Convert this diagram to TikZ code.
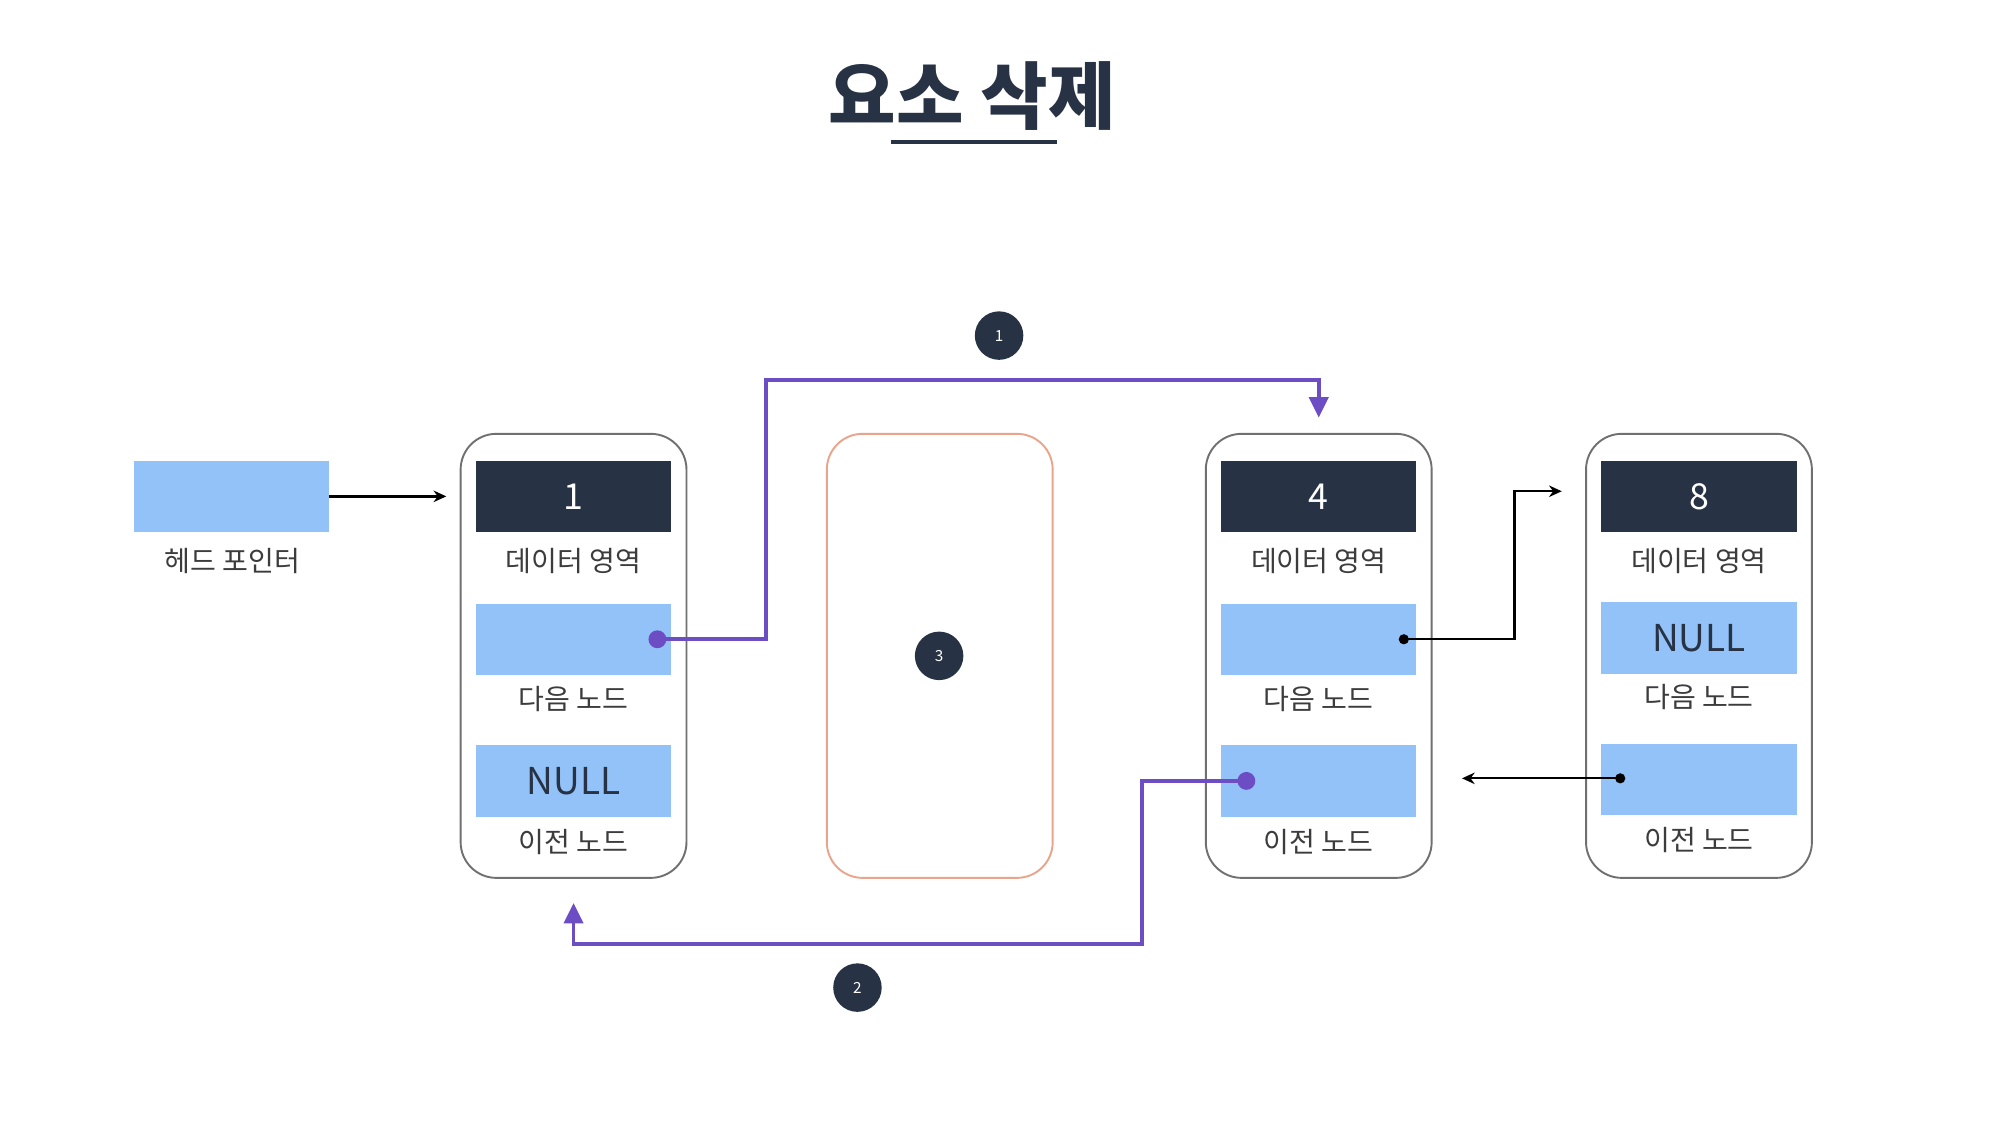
\documentclass[tikz,border=0pt]{standalone}
\usepackage{fontspec}
\newfontfamily\kr{Noto Sans CJK KR}
\usetikzlibrary{arrows.meta,calc}
\definecolor{navy}{HTML}{273244}
\definecolor{lblue}{HTML}{93C2F8}
\definecolor{purp}{HTML}{6C4DC4}
\definecolor{orng}{HTML}{E8A58C}
\definecolor{bgray}{HTML}{707070}
\definecolor{tgray}{HTML}{3C3C3C}
\tikzset{
  outer/.style={draw=bgray, line width=1.5pt, rounded corners=28pt, minimum width=177pt, minimum height=348pt, inner sep=0pt},
  gone/.style={draw=orng, line width=1.5pt, rounded corners=28pt, minimum width=177pt, minimum height=348pt, inner sep=0pt},
  databox/.style={fill=navy, minimum width=153pt, minimum height=56pt, inner sep=0pt, text=white, font=\kr\fontsize{28}{32}\selectfont},
  ptrbox/.style={fill=lblue, minimum width=153pt, minimum height=56pt, inner sep=0pt, text=navy, font=\kr\fontsize{29}{32}\selectfont},
  lab/.style={inner sep=0pt, text=tgray, font=\kr\fontsize{22}{24}\selectfont},
  badge/.style={circle, fill=navy, minimum size=38pt, inner sep=0pt, text=white, font=\kr\fontsize{12}{14}\selectfont},
  plink/.style={draw=purp, line width=3pt, -{Triangle[length=16pt,width=15pt]}},
  blink/.style={draw=black, line width=1.8pt, -{Stealth[length=10pt,width=9pt]}},
  pdot/.style={circle, fill=purp, minimum size=14pt, inner sep=0pt},
  bdot/.style={circle, fill=black, minimum size=8pt, inner sep=0pt},
}
\begin{document}
\begin{tikzpicture}[x=1pt,y=-1pt]
\useasboundingbox[fill=white] (0,0) rectangle (1569,882.46);
% title
\node[inner sep=0pt, text=navy, font=\kr\bfseries\fontsize{57.5}{62}\selectfont] (title) at (762,75) {요소 삭제};
\draw[navy, line width=3pt] (698,111) -- (828,111);

% head pointer
\node[ptrbox] (head) at (181.5,389) {};
\node[lab] (headl) at (182,440) {헤드 포인터};

% node 1
\node[outer] (n1) at (449.5,514) {};
\node[databox] (d1) at (449.5,389) {1};
\node[lab] (dl1) at (449.5,440) {데이터 영역};
\node[ptrbox] (x1) at (449.5,501) {};
\node[lab] (xl1) at (449.5,548) {다음 노드};
\node[ptrbox] (v1) at (449.5,612) {NULL};
\node[lab] (vl1) at (449.5,660) {이전 노드};

% deleted node 3
\node[gone] (n3) at (736.5,514) {};
\node[badge] (c3) at (736,514) {3};

% node 4
\node[outer] (n4) at (1033.5,514) {};
\node[databox] (d4) at (1033.5,389) {4};
\node[lab] (dl4) at (1033.5,440) {데이터 영역};
\node[ptrbox] (x4) at (1033.5,501) {};
\node[lab] (xl4) at (1033.5,548) {다음 노드};
\node[ptrbox] (v4) at (1033.5,612) {};
\node[lab] (vl4) at (1033.5,660) {이전 노드};

% node 8
\node[outer] (n8) at (1331.5,514) {};
\node[databox] (d8) at (1331.5,389) {8};
\node[lab] (dl8) at (1331.5,440) {데이터 영역};
\node[ptrbox] (x8) at (1331.5,500) {NULL};
\node[lab] (xl8) at (1331.5,546) {다음 노드};
\node[ptrbox] (v8) at (1331.5,611) {};
\node[lab] (vl8) at (1331.5,658) {이전 노드};

% badges
\node[badge] (c1) at (783,263) {1};
\node[badge] (c2) at (672,774) {2};

% connectors
\draw[blink, shorten >=23pt] (head.east) -- (d1.west);

\coordinate (k1) at (600,298);
\draw[plink, shorten >=12pt] ($(x1.east)+(-11,0)$) -| (k1) -| (n4.north);
\node[pdot] (p1) at ($(x1.east)+(-11,0)$) {};

\coordinate (k2) at (895,740);
\draw[plink, shorten >=19pt] ($(v4.west)+(20,0)$) -| (k2) -| (n1.south);
\node[pdot] (p2) at ($(v4.west)+(20,0)$) {};

\coordinate (k3) at (1187,385);
\coordinate (t1) at (1224,385);
\node[bdot] (q1) at ($(x4.east)+(-10,0)$) {};
\draw[blink] (q1.center) -| (k3) -- (t1);

\node[bdot] (q2) at ($(v8.west)+(15,-1)$) {};
\draw[blink, shorten >=23pt] (q2.center) -- (n4.east |- q2.center);
\end{tikzpicture}
\end{document}
